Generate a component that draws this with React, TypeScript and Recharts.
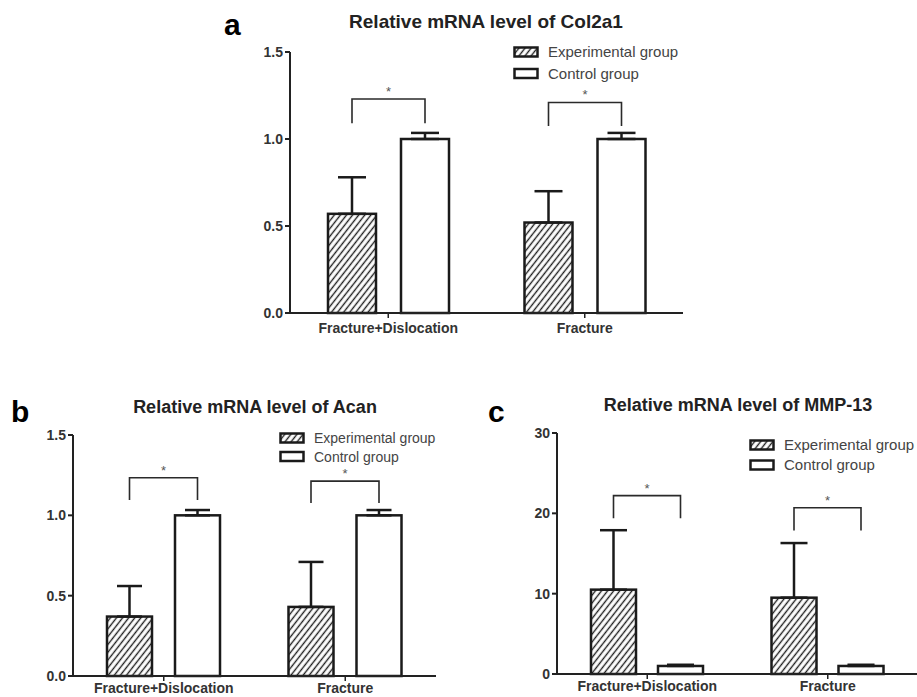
import React from 'react';
import { BarChart, Bar, XAxis, YAxis, ErrorBar, Legend } from 'recharts';

const categories = ['Fracture+Dislocation', 'Fracture'];
const seriesNames = ['Experimental group', 'Control group'];

// Panel a: Col2a1
const col2a1Exp = [0.57, 0.52];
const col2a1ExpErr = [0.21, 0.18];
const col2a1Ctrl = [1.0, 1.0];
const col2a1CtrlErr = [0.035, 0.035];
const col2a1BracketTop = [1.23, 1.21];
const col2a1BracketLeg = [1.09, 1.075];

// Panel b: Acan
const acanExp = [0.37, 0.43];
const acanExpErr = [0.19, 0.28];
const acanCtrl = [1.0, 1.0];
const acanCtrlErr = [0.033, 0.033];
const acanBracketTop = [1.234, 1.213];
const acanBracketLeg = [1.095, 1.077];

// Panel c: MMP-13
const mmpExp = [10.5, 9.5];
const mmpExpErr = [7.4, 6.8];
const mmpCtrl = [1.0, 1.0];
const mmpCtrlErr = [0.15, 0.15];
const mmpBracketTop = [22.2, 20.7];
const mmpBracketLeg = [19.4, 17.85];

const ticks15 = [0, 0.5, 1.0, 1.5];
const ticks30 = [0, 10, 20, 30];

const FONT = '"Liberation Sans", Arial, Helvetica, sans-serif';

function buildRows(exp: number[], expErr: number[], ctrl: number[], ctrlErr: number[], top: number[], leg: number[]) {
  return categories.map((c, i) => ({
    category: c,
    exp: exp[i],
    expErr: [0, expErr[i]],
    ctrl: ctrl[i],
    ctrlErr: [0, ctrlErr[i]],
    bracketTop: top[i],
    bracketLeg: leg[i],
  }));
}

const makeExpShape = (patternId: string, barGap: number) => (props: any) => {
  const { x, y, width, height, payload } = props;
  const bottom = y + height;
  const ppu = height / payload.exp;
  const toY = (v: number) => bottom - v * ppu;
  const cx1 = x + width / 2;
  const cx2 = x + width + barGap + width / 2;
  const yt = toY(payload.bracketTop);
  const yl = toY(payload.bracketLeg);
  return (
    <g>
      <rect x={x} y={y} width={width} height={height} fill={`url(#${patternId})`} stroke="#1a1a1a" strokeWidth={2.5} />
      <path d={`M${cx1},${yl}V${yt}H${cx2}V${yl}`} fill="none" stroke="#2a2a2a" strokeWidth={1.6} />
      <text x={(cx1 + cx2) / 2} y={yt - 3} textAnchor="middle" fontSize={13} fill="#555" fontFamily={FONT}>*</text>
    </g>
  );
};

const ctrlShape = (props: any) => {
  const { x, y, width, height } = props;
  return <rect x={x} y={y} width={width} height={height} fill="#fff" stroke="#1a1a1a" strokeWidth={2.5} />;
};

const makeLegend = (patternId: string, fontSize: number, spacing: number) => (props: any) => {
  const payload = [...(props.payload || [])].sort(
    (a: any, b: any) => seriesNames.indexOf(a.value) - seriesNames.indexOf(b.value)
  );
  const r0 = 8;
  return (
    <svg width={190} height={r0 + spacing + 12} style={{ display: 'block', overflow: 'visible' }}>
      {payload.map((item: any, i: number) => {
        const cy = r0 + i * spacing;
        const hatched = item.dataKey === 'exp';
        return (
          <g key={i}>
            <rect x={1.5} y={cy - 4.5} width={23} height={9} fill={hatched ? `url(#${patternId})` : '#fff'} stroke="#1a1a1a" strokeWidth={2.5} />
            <text x={35} y={cy + fontSize * 0.36} fontSize={fontSize} fill="#444" fontFamily={FONT}>{item.value}</text>
          </g>
        );
      })}
    </svg>
  );
};

type PanelProps = {
  id: string;
  left: number; top: number; width: number; height: number;
  marginTop: number; marginRight: number;
  yWidth: number; xHeight: number; xTickMargin: number;
  barSize: number; barGap: number; capHalf: number;
  domain: [number, number]; yTicks: number[]; decimals: number;
  legendLeft: number; legendTop: number; legendFont: number; legendSpacing: number;
  data: any[];
};

function Panel(p: PanelProps) {
  const patternId = `hatch-${p.id}`;
  return (
    <div style={{ position: 'absolute', left: p.left, top: p.top }}>
      <BarChart
        width={p.width}
        height={p.height}
        data={p.data}
        margin={{ top: p.marginTop, right: p.marginRight, left: 0, bottom: 0 }}
        barSize={p.barSize}
        barGap={p.barGap}
      >
        <defs>
          <pattern id={patternId} patternUnits="userSpaceOnUse" width={4.8} height={10} patternTransform="rotate(38)">
            <line x1={2.4} y1={0} x2={2.4} y2={10} stroke="#1e1e1e" strokeWidth={1.4} />
          </pattern>
        </defs>
        <XAxis
          dataKey="category"
          height={p.xHeight}
          interval={0}
          tickSize={5}
          tickMargin={p.xTickMargin}
          axisLine={{ stroke: '#222', strokeWidth: 2 }}
          tickLine={{ stroke: '#222', strokeWidth: 1.5 }}
          tick={{ fontSize: 14, fontWeight: 'bold', fill: '#333', fontFamily: FONT }}
        />
        <YAxis
          width={p.yWidth}
          domain={p.domain}
          ticks={p.yTicks}
          interval={0}
          tickSize={5}
          tickMargin={2}
          tickFormatter={(v: number) => v.toFixed(p.decimals)}
          axisLine={{ stroke: '#222', strokeWidth: 2 }}
          tickLine={{ stroke: '#222', strokeWidth: 2 }}
          tick={{ fontSize: 14, fontWeight: 'bold', fill: '#333', fontFamily: FONT }}
        />
        <Legend
          layout="vertical"
          align="center"
          verticalAlign="middle"
          content={makeLegend(patternId, p.legendFont, p.legendSpacing)}
          wrapperStyle={{ left: p.legendLeft, top: p.legendTop, width: 200, height: 50 }}
        />
        <Bar dataKey="exp" name={seriesNames[0]} shape={makeExpShape(patternId, p.barGap)} isAnimationActive={false}>
          <ErrorBar dataKey="expErr" direction="y" width={p.capHalf} stroke="#1a1a1a" strokeWidth={2.5} />
        </Bar>
        <Bar dataKey="ctrl" name={seriesNames[1]} shape={ctrlShape} isAnimationActive={false}>
          <ErrorBar dataKey="ctrlErr" direction="y" width={p.capHalf} stroke="#1a1a1a" strokeWidth={2.5} />
        </Bar>
      </BarChart>
    </div>
  );
}

export default function App() {
  const dataA = buildRows(col2a1Exp, col2a1ExpErr, col2a1Ctrl, col2a1CtrlErr, col2a1BracketTop, col2a1BracketLeg);
  const dataB = buildRows(acanExp, acanExpErr, acanCtrl, acanCtrlErr, acanBracketTop, acanBracketLeg);
  const dataC = buildRows(mmpExp, mmpExpErr, mmpCtrl, mmpCtrlErr, mmpBracketTop, mmpBracketLeg);
  return (
    <div style={{ position: 'fixed', left: 0, top: 0, width: 917, height: 697, overflow: 'hidden', background: '#fff', fontFamily: FONT }}>
      <Panel id="a" left={200} top={40} width={500} height={300} marginTop={12} marginRight={17}
        yWidth={90} xHeight={27} xTickMargin={5} barSize={48} barGap={25} capHalf={14}
        domain={[0, 1.5]} yTicks={ticks15} decimals={1}
        legendLeft={313} legendTop={3.5} legendFont={15} legendSpacing={21.5} data={dataA} />
      <Panel id="b" left={0} top={420} width={460} height={277} marginTop={15} marginRight={24}
        yWidth={73} xHeight={21} xTickMargin={2} barSize={45} barGap={23} capHalf={12.5}
        domain={[0, 1.5]} yTicks={ticks15} decimals={1}
        legendLeft={279} legendTop={10} legendFont={14} legendSpacing={18.5} data={dataB} />
      <Panel id="c" left={470} top={420} width={448} height={277} marginTop={13} marginRight={0}
        yWidth={87} xHeight={23} xTickMargin={2} barSize={45} barGap={22} capHalf={13.5}
        domain={[0, 30]} yTicks={ticks30} decimals={0}
        legendLeft={279} legendTop={17} legendFont={15} legendSpacing={20} data={dataC} />
      <svg width={917} height={697} style={{ position: 'absolute', left: 0, top: 0, pointerEvents: 'none' }}>
        <g fontFamily={FONT} fontWeight="bold">
          <text x={224} y={35} fontSize={30} fill="#000">a</text>
          <text x={486} y={28} fontSize={19} fill="#222" textAnchor="middle">Relative mRNA level of Col2a1</text>
          <text x={11} y={422} fontSize={30} fill="#000">b</text>
          <text x={255} y={413} fontSize={18} fill="#222" textAnchor="middle">Relative mRNA level of Acan</text>
          <text x={488} y={422} fontSize={30} fill="#000">c</text>
          <text x={738} y={411} fontSize={18} fill="#222" textAnchor="middle">Relative mRNA level of MMP-13</text>
        </g>
      </svg>
    </div>
  );
}
